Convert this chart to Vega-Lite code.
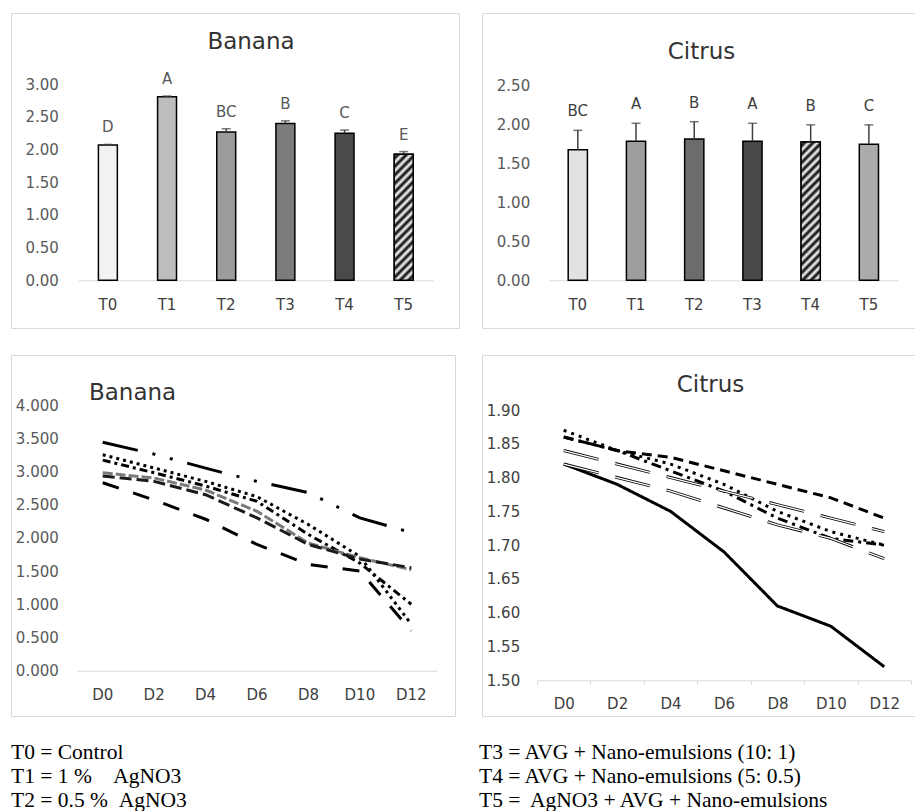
{
  "$schema": "https://vega.github.io/schema/vega-lite/v6.json",
  "background": "white",
  "padding": {"left": 10, "top": 12, "right": 0, "bottom": 0},
  "config": {
    "font": "DejaVu Sans",
    "view": {"stroke": "#d9d9d9", "strokeWidth": 1},
    "axis": {
      "grid": false,
      "ticks": false,
      "tickSize": 0,
      "domain": false,
      "labelFont": "DejaVu Sans",
      "labelFontSize": 15,
      "labelColor": "#595959"
    },
    "title": {"font": "DejaVu Sans", "fontSize": 23, "fontWeight": "normal", "color": "#333333"}
  },
  "spacing": 25,
  "vconcat": [
    {
      "spacing": 21,
      "resolve": {"scale": {"fill": "independent"}},
      "hconcat": [
        {
          "width": 448,
          "height": 315,
          "title": {"text": "Banana", "anchor": "middle", "offset": -41, "dx": 16},
          "data": {"values": [
            {"trt": "T0", "mean": 2.07, "sd": 0.01, "grp": "D"},
            {"trt": "T1", "mean": 2.81, "sd": 0.01, "grp": "A"},
            {"trt": "T2", "mean": 2.27, "sd": 0.05, "grp": "BC"},
            {"trt": "T3", "mean": 2.40, "sd": 0.04, "grp": "B"},
            {"trt": "T4", "mean": 2.25, "sd": 0.05, "grp": "C"},
            {"trt": "T5", "mean": 1.93, "sd": 0.04, "grp": "E"}
          ]},
          "transform": [{"calculate": "datum.mean + datum.sd", "as": "upper"}],
          "layer": [
            {
              "mark": {"type": "bar", "stroke": "#000000", "strokeWidth": 1.5},
              "encoding": {
                "x": {
                  "field": "trt", "type": "nominal", "title": null,
                  "scale": {"range": [67.3, 422.3], "paddingInner": 0.68, "paddingOuter": 0.34},
                  "axis": {"offset": -47.7, "domain": true, "domainColor": "#d9d9d9", "domainWidth": 1, "labelPadding": 17, "labelColor": "#404040", "labelAngle": 0}
                },
                "y": {
                  "field": "mean", "type": "quantitative", "title": null,
                  "scale": {"domain": [0, 3], "range": [267.3, 71.3], "nice": false, "zero": false},
                  "axis": {"offset": -47.3, "labelPadding": 0, "values": [0, 0.5, 1, 1.5, 2, 2.5, 3], "format": ".2f"}
                },
                "fill": {
                  "field": "trt", "type": "nominal", "legend": null,
                  "scale": {"domain": ["T0", "T1", "T2", "T3", "T4", "T5"], "range": ["#f2f2f2", "#bdbdbd", "#9c9c9c", "#7c7c7c", "#4a4a4a", "#7a7a7a"]}
                }
              }
            },
            {
              "transform": [{"filter": "datum.trt === 'T5'"}],
              "mark": {
                "type": "bar", "stroke": "#000000", "strokeWidth": 1.5,
                "fill": {
                  "gradient": "linear", "x1": 0, "y1": 0, "x2": 1, "y2": 6.6,
                  "stops": [
                    {"offset": 0, "color": "#ffffff"}, {"offset": 0.005, "color": "#000000"}, {"offset": 0.01, "color": "#ffffff"}, {"offset": 0.015, "color": "#000000"},
                    {"offset": 0.02, "color": "#ffffff"}, {"offset": 0.025, "color": "#000000"}, {"offset": 0.03, "color": "#ffffff"}, {"offset": 0.035, "color": "#000000"},
                    {"offset": 0.04, "color": "#ffffff"}, {"offset": 0.045, "color": "#000000"}, {"offset": 0.05, "color": "#ffffff"}, {"offset": 0.055, "color": "#000000"},
                    {"offset": 0.06, "color": "#ffffff"}, {"offset": 0.065, "color": "#000000"}, {"offset": 0.07, "color": "#ffffff"}, {"offset": 0.075, "color": "#000000"},
                    {"offset": 0.08, "color": "#ffffff"}, {"offset": 0.085, "color": "#000000"}, {"offset": 0.09, "color": "#ffffff"}, {"offset": 0.095, "color": "#000000"},
                    {"offset": 0.1, "color": "#ffffff"}, {"offset": 0.105, "color": "#000000"}, {"offset": 0.11, "color": "#ffffff"}, {"offset": 0.115, "color": "#000000"},
                    {"offset": 0.12, "color": "#ffffff"}, {"offset": 0.125, "color": "#000000"}, {"offset": 0.13, "color": "#ffffff"}, {"offset": 0.135, "color": "#000000"},
                    {"offset": 0.14, "color": "#ffffff"}, {"offset": 0.145, "color": "#000000"}, {"offset": 0.15, "color": "#ffffff"}, {"offset": 0.155, "color": "#000000"},
                    {"offset": 0.16, "color": "#ffffff"}, {"offset": 0.165, "color": "#000000"}, {"offset": 0.17, "color": "#ffffff"}, {"offset": 0.175, "color": "#000000"},
                    {"offset": 0.18, "color": "#ffffff"}, {"offset": 1, "color": "#ffffff"}
                  ]
                }
              },
              "encoding": {
                "x": {"field": "trt", "type": "nominal"},
                "y": {"field": "mean", "type": "quantitative"}
              }
            },
            {
              "mark": {"type": "rule", "color": "#404040", "strokeWidth": 1.5},
              "encoding": {
                "x": {"field": "trt", "type": "nominal", "bandPosition": 0.5},
                "y": {"field": "mean", "type": "quantitative"},
                "y2": {"field": "upper"}
              }
            },
            {
              "mark": {"type": "tick", "orient": "horizontal", "size": 9, "thickness": 1.5, "color": "#404040"},
              "encoding": {
                "x": {"field": "trt", "type": "nominal", "bandPosition": 0.5},
                "y": {"field": "upper", "type": "quantitative"}
              }
            },
            {
              "mark": {"type": "text", "dy": -17, "baseline": "middle", "fontSize": 15, "color": "#595959"},
              "encoding": {
                "x": {"field": "trt", "type": "nominal", "bandPosition": 0.5},
                "y": {"field": "upper", "type": "quantitative"},
                "text": {"field": "grp"}
              }
            }
          ]
        },
        {
          "width": 435,
          "height": 315,
          "title": {"text": "Citrus", "anchor": "middle", "offset": -51, "dx": 2},
          "data": {"values": [
            {"trt": "T0", "mean": 1.67, "sd": 0.25, "grp": "BC"},
            {"trt": "T1", "mean": 1.78, "sd": 0.23, "grp": "A"},
            {"trt": "T2", "mean": 1.81, "sd": 0.22, "grp": "B"},
            {"trt": "T3", "mean": 1.78, "sd": 0.23, "grp": "A"},
            {"trt": "T4", "mean": 1.77, "sd": 0.22, "grp": "B"},
            {"trt": "T5", "mean": 1.74, "sd": 0.25, "grp": "C"}
          ]},
          "transform": [{"calculate": "datum.mean + datum.sd", "as": "upper"}],
          "layer": [
            {
              "mark": {"type": "bar", "stroke": "#000000", "strokeWidth": 1.5},
              "encoding": {
                "x": {
                  "field": "trt", "type": "nominal", "title": null,
                  "scale": {"range": [66.7, 416], "paddingInner": 0.67, "paddingOuter": 0.335},
                  "axis": {"offset": -47.7, "domain": true, "domainColor": "#d9d9d9", "domainWidth": 1, "labelPadding": 17, "labelColor": "#404040", "labelAngle": 0}
                },
                "y": {
                  "field": "mean", "type": "quantitative", "title": null,
                  "scale": {"domain": [0, 2.5], "range": [267.3, 72], "nice": false, "zero": false},
                  "axis": {"offset": -47.7, "labelPadding": 0, "values": [0, 0.5, 1, 1.5, 2, 2.5], "format": ".2f"}
                },
                "fill": {
                  "field": "trt", "type": "nominal", "legend": null,
                  "scale": {"domain": ["T0", "T1", "T2", "T3", "T4", "T5"], "range": ["#e2e2e2", "#9e9e9e", "#6c6c6c", "#484848", "#7f7f7f", "#ababab"]}
                }
              }
            },
            {
              "transform": [{"filter": "datum.trt === 'T4'"}],
              "mark": {
                "type": "bar", "stroke": "#000000", "strokeWidth": 1.5,
                "fill": {
                  "gradient": "linear", "x1": 0, "y1": 0, "x2": 1, "y2": 7.15,
                  "stops": [
                    {"offset": 0, "color": "#ffffff"}, {"offset": 0.0042, "color": "#000000"}, {"offset": 0.0084, "color": "#ffffff"}, {"offset": 0.0126, "color": "#000000"},
                    {"offset": 0.0168, "color": "#ffffff"}, {"offset": 0.021, "color": "#000000"}, {"offset": 0.0252, "color": "#ffffff"}, {"offset": 0.0294, "color": "#000000"},
                    {"offset": 0.0336, "color": "#ffffff"}, {"offset": 0.0378, "color": "#000000"}, {"offset": 0.042, "color": "#ffffff"}, {"offset": 0.0462, "color": "#000000"},
                    {"offset": 0.0504, "color": "#ffffff"}, {"offset": 0.0546, "color": "#000000"}, {"offset": 0.0588, "color": "#ffffff"}, {"offset": 0.063, "color": "#000000"},
                    {"offset": 0.0672, "color": "#ffffff"}, {"offset": 0.0714, "color": "#000000"}, {"offset": 0.0756, "color": "#ffffff"}, {"offset": 0.0798, "color": "#000000"},
                    {"offset": 0.084, "color": "#ffffff"}, {"offset": 0.0882, "color": "#000000"}, {"offset": 0.0924, "color": "#ffffff"}, {"offset": 0.0966, "color": "#000000"},
                    {"offset": 0.1008, "color": "#ffffff"}, {"offset": 0.105, "color": "#000000"}, {"offset": 0.1092, "color": "#ffffff"}, {"offset": 0.1134, "color": "#000000"},
                    {"offset": 0.1176, "color": "#ffffff"}, {"offset": 0.1218, "color": "#000000"}, {"offset": 0.126, "color": "#ffffff"}, {"offset": 0.1302, "color": "#000000"},
                    {"offset": 0.1344, "color": "#ffffff"}, {"offset": 0.1386, "color": "#000000"}, {"offset": 0.1428, "color": "#ffffff"}, {"offset": 0.147, "color": "#000000"},
                    {"offset": 0.1512, "color": "#ffffff"}, {"offset": 0.1554, "color": "#000000"}, {"offset": 0.1596, "color": "#ffffff"}, {"offset": 1, "color": "#ffffff"}
                  ]
                }
              },
              "encoding": {
                "x": {"field": "trt", "type": "nominal"},
                "y": {"field": "mean", "type": "quantitative"}
              }
            },
            {
              "mark": {"type": "rule", "color": "#404040", "strokeWidth": 1.5},
              "encoding": {
                "x": {"field": "trt", "type": "nominal", "bandPosition": 0.5},
                "y": {"field": "mean", "type": "quantitative"},
                "y2": {"field": "upper"}
              }
            },
            {
              "mark": {"type": "tick", "orient": "horizontal", "size": 9, "thickness": 1.5, "color": "#404040"},
              "encoding": {
                "x": {"field": "trt", "type": "nominal", "bandPosition": 0.5},
                "y": {"field": "upper", "type": "quantitative"}
              }
            },
            {
              "mark": {"type": "text", "dy": -19, "baseline": "middle", "fontSize": 15, "color": "#404040"},
              "encoding": {
                "x": {"field": "trt", "type": "nominal", "bandPosition": 0.5},
                "y": {"field": "upper", "type": "quantitative"},
                "text": {"field": "grp"}
              }
            }
          ]
        }
      ]
    },
    {
      "spacing": 25,
      "resolve": {"scale": {"strokeDash": "independent", "color": "independent"}},
      "hconcat": [
        {
          "width": 444,
          "height": 361,
          "title": {"text": "Banana", "anchor": "start", "offset": -50, "dx": 78},
          "data": {"values": [
            {"trt": "T0", "day": "D0", "v": 3.44}, {"trt": "T0", "day": "D2", "v": 3.26}, {"trt": "T0", "day": "D4", "v": 3.05}, {"trt": "T0", "day": "D6", "v": 2.85}, {"trt": "T0", "day": "D8", "v": 2.68}, {"trt": "T0", "day": "D10", "v": 2.30}, {"trt": "T0", "day": "D12", "v": 2.08},
            {"trt": "T1", "day": "D0", "v": 3.25}, {"trt": "T1", "day": "D2", "v": 3.05}, {"trt": "T1", "day": "D4", "v": 2.85}, {"trt": "T1", "day": "D6", "v": 2.62}, {"trt": "T1", "day": "D8", "v": 2.20}, {"trt": "T1", "day": "D10", "v": 1.72}, {"trt": "T1", "day": "D12", "v": 0.70},
            {"trt": "T2", "day": "D0", "v": 3.17}, {"trt": "T2", "day": "D2", "v": 2.98}, {"trt": "T2", "day": "D4", "v": 2.78}, {"trt": "T2", "day": "D6", "v": 2.55}, {"trt": "T2", "day": "D8", "v": 2.05}, {"trt": "T2", "day": "D10", "v": 1.62}, {"trt": "T2", "day": "D12", "v": 1.00},
            {"trt": "T3", "day": "D0", "v": 2.98}, {"trt": "T3", "day": "D2", "v": 2.90}, {"trt": "T3", "day": "D4", "v": 2.72}, {"trt": "T3", "day": "D6", "v": 2.40}, {"trt": "T3", "day": "D8", "v": 1.92}, {"trt": "T3", "day": "D10", "v": 1.70}, {"trt": "T3", "day": "D12", "v": 1.52},
            {"trt": "T4", "day": "D0", "v": 2.93}, {"trt": "T4", "day": "D2", "v": 2.85}, {"trt": "T4", "day": "D4", "v": 2.65}, {"trt": "T4", "day": "D6", "v": 2.30}, {"trt": "T4", "day": "D8", "v": 1.90}, {"trt": "T4", "day": "D10", "v": 1.68}, {"trt": "T4", "day": "D12", "v": 1.55},
            {"trt": "T5", "day": "D0", "v": 2.83}, {"trt": "T5", "day": "D2", "v": 2.57}, {"trt": "T5", "day": "D4", "v": 2.28}, {"trt": "T5", "day": "D6", "v": 1.90}, {"trt": "T5", "day": "D8", "v": 1.60}, {"trt": "T5", "day": "D10", "v": 1.50}, {"trt": "T5", "day": "D12", "v": 0.60}
          ]},
          "mark": {"type": "line", "strokeWidth": 3},
          "encoding": {
            "x": {
              "field": "day", "type": "ordinal", "title": null, "bandPosition": 0.5,
              "sort": ["D0", "D2", "D4", "D6", "D8", "D10", "D12"],
              "scale": {"type": "band", "range": [66, 426], "paddingInner": 0, "paddingOuter": 0},
              "axis": {"offset": -45.3, "domain": true, "domainColor": "#d9d9d9", "domainWidth": 1, "labelPadding": 17, "labelColor": "#404040", "labelAngle": 0}
            },
            "y": {
              "field": "v", "type": "quantitative", "title": null,
              "scale": {"domain": [0, 4], "range": [315.7, 50], "nice": false, "zero": false},
              "axis": {"offset": -47.3, "labelPadding": 0, "values": [0, 0.5, 1, 1.5, 2, 2.5, 3, 3.5, 4], "format": ".3f"}
            },
            "order": {"value": null},
            "color": {
              "field": "trt", "type": "nominal", "legend": null,
              "scale": {"domain": ["T0", "T1", "T2", "T3", "T4", "T5"], "range": ["#000000", "#000000", "#000000", "#7a7a7a", "#1a1a1a", "#000000"]}
            },
            "strokeDash": {
              "field": "trt", "type": "nominal", "legend": null,
              "scale": {"domain": ["T0", "T1", "T2", "T3", "T4", "T5"], "range": [[36, 15, 3, 15, 3, 15], [3, 4], [8, 4, 3, 4], [10, 3], [12, 5], [17, 15]]}
            }
          }
        },
        {
          "width": 435,
          "height": 361,
          "title": {"text": "Citrus", "anchor": "middle", "offset": -42, "dx": 11},
          "data": {"values": [
            {"trt": "T0", "day": "D0", "v": 1.82}, {"trt": "T0", "day": "D2", "v": 1.79}, {"trt": "T0", "day": "D4", "v": 1.75}, {"trt": "T0", "day": "D6", "v": 1.69}, {"trt": "T0", "day": "D8", "v": 1.61}, {"trt": "T0", "day": "D10", "v": 1.58}, {"trt": "T0", "day": "D12", "v": 1.52},
            {"trt": "T1", "day": "D0", "v": 1.86}, {"trt": "T1", "day": "D2", "v": 1.84}, {"trt": "T1", "day": "D4", "v": 1.83}, {"trt": "T1", "day": "D6", "v": 1.81}, {"trt": "T1", "day": "D8", "v": 1.79}, {"trt": "T1", "day": "D10", "v": 1.77}, {"trt": "T1", "day": "D12", "v": 1.74},
            {"trt": "T2", "day": "D0", "v": 1.87}, {"trt": "T2", "day": "D2", "v": 1.84}, {"trt": "T2", "day": "D4", "v": 1.82}, {"trt": "T2", "day": "D6", "v": 1.79}, {"trt": "T2", "day": "D8", "v": 1.75}, {"trt": "T2", "day": "D10", "v": 1.72}, {"trt": "T2", "day": "D12", "v": 1.70},
            {"trt": "T3", "day": "D0", "v": 1.84}, {"trt": "T3", "day": "D2", "v": 1.82}, {"trt": "T3", "day": "D4", "v": 1.80}, {"trt": "T3", "day": "D6", "v": 1.78}, {"trt": "T3", "day": "D8", "v": 1.76}, {"trt": "T3", "day": "D10", "v": 1.74}, {"trt": "T3", "day": "D12", "v": 1.72},
            {"trt": "T4", "day": "D0", "v": 1.82}, {"trt": "T4", "day": "D2", "v": 1.80}, {"trt": "T4", "day": "D4", "v": 1.78}, {"trt": "T4", "day": "D6", "v": 1.755}, {"trt": "T4", "day": "D8", "v": 1.73}, {"trt": "T4", "day": "D10", "v": 1.71}, {"trt": "T4", "day": "D12", "v": 1.68},
            {"trt": "T5", "day": "D0", "v": 1.86}, {"trt": "T5", "day": "D2", "v": 1.84}, {"trt": "T5", "day": "D4", "v": 1.81}, {"trt": "T5", "day": "D6", "v": 1.78}, {"trt": "T5", "day": "D8", "v": 1.74}, {"trt": "T5", "day": "D10", "v": 1.71}, {"trt": "T5", "day": "D12", "v": 1.70}
          ]},
          "encoding": {
            "x": {
              "field": "day", "type": "ordinal", "title": null, "bandPosition": 0.5,
              "sort": ["D0", "D2", "D4", "D6", "D8", "D10", "D12"],
              "scale": {"type": "band", "range": [55, 429], "paddingInner": 0, "paddingOuter": 0},
              "axis": {"offset": -35.7, "domain": true, "domainColor": "#d9d9d9", "domainWidth": 1, "ticks": true, "tickSize": 4, "tickColor": "#d9d9d9", "tickBand": "extent", "labelPadding": 12, "labelColor": "#404040", "labelAngle": 0}
            },
            "y": {
              "field": "v", "type": "quantitative", "title": null,
              "scale": {"domain": [1.5, 1.9], "range": [325.3, 55], "nice": false, "zero": false},
              "axis": {"offset": -37.7, "labelPadding": 0, "values": [1.5, 1.55, 1.6, 1.65, 1.7, 1.75, 1.8, 1.85, 1.9], "format": ".2f", "labelColor": "#404040"}
            },
            "order": {"value": null},
            "strokeDash": {
              "field": "trt", "type": "nominal", "legend": null,
              "scale": {"domain": ["T0", "T1", "T2", "T3", "T4", "T5"], "range": [[1, 0], [10, 6], [3, 5], [36, 17], [36, 17], [10, 5, 3, 5]]}
            }
          },
          "layer": [
            {
              "mark": {"type": "line", "color": "#000000", "strokeWidth": 3}
            },
            {
              "transform": [{"filter": "datum.trt === 'T3' || datum.trt === 'T4'"}],
              "mark": {"type": "line", "color": "#ffffff", "strokeWidth": 1.3}
            }
          ]
        }
      ]
    },
    {
      "spacing": 23,
      "hconcat": [
        {
          "width": 445,
          "height": 68,
          "view": {"stroke": null},
          "data": {"values": [
            {"code": "T0", "line": "T0 = Control"},
            {"code": "T1", "line": "T1 = 1 %\u00a0\u00a0\u00a0\u00a0AgNO3"},
            {"code": "T2", "line": "T2 = 0.5 %\u00a0\u00a0AgNO3"}
          ]},
          "mark": {"type": "text", "align": "left", "baseline": "middle", "dy": -6, "font": "Liberation Serif", "fontSize": 21.5, "color": "#000000"},
          "encoding": {
            "x": {"datum": 0, "type": "quantitative", "scale": {"domain": [0, 1]}, "axis": null},
            "y": {"field": "code", "type": "ordinal", "scale": {"type": "point", "padding": 0.4167}, "axis": null},
            "text": {"field": "line"}
          }
        },
        {
          "width": 435,
          "height": 68,
          "view": {"stroke": null},
          "data": {"values": [
            {"code": "T3", "line": "T3 = AVG + Nano-emulsions (10: 1)"},
            {"code": "T4", "line": "T4 = AVG + Nano-emulsions (5: 0.5)"},
            {"code": "T5", "line": "T5 =\u00a0 AgNO3 + AVG + Nano-emulsions"}
          ]},
          "mark": {"type": "text", "align": "left", "baseline": "middle", "dy": -6, "font": "Liberation Serif", "fontSize": 21.5, "color": "#000000"},
          "encoding": {
            "x": {"datum": 0, "type": "quantitative", "scale": {"domain": [0, 1]}, "axis": null},
            "y": {"field": "code", "type": "ordinal", "scale": {"type": "point", "padding": 0.4167}, "axis": null},
            "text": {"field": "line"}
          }
        }
      ]
    }
  ]
}
